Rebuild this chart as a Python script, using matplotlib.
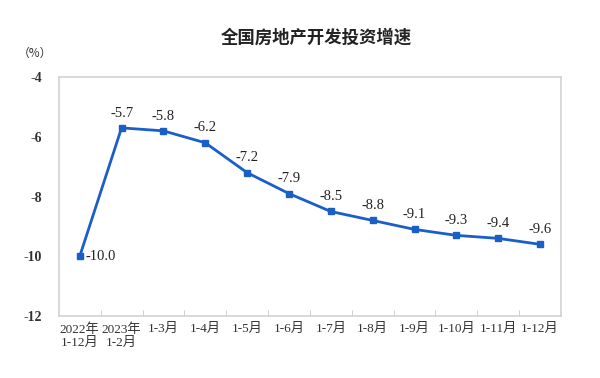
import matplotlib.pyplot as plt

plt.rcParams['font.family'] = ['Liberation Serif', 'Noto Sans CJK SC']

categories = ['2022年\n1-12月', '2023年\n1-2月', '1-3月', '1-4月', '1-5月', '1-6月',
              '1-7月', '1-8月', '1-9月', '1-10月', '1-11月', '1-12月']
growth = [-10.0, -5.7, -5.8, -6.2, -7.2, -7.9, -8.5, -8.8, -9.1, -9.3, -9.4, -9.6]
y_ticks = [-4, -6, -8, -10, -12]

fig = plt.figure(figsize=(6, 3.78), dpi=100)
ax = fig.add_axes([0.098, 0.164, 0.837, 0.632])

x = list(range(len(growth)))
ax.plot(x, growth, color='#1a5fc8', linewidth=2.0, marker='s', markersize=4.5)

for i, v in enumerate(growth):
    if i == 0:
        ax.annotate(f'{v:.1f}', (i, v), xytext=(4, 0), textcoords='offset points',
                    ha='left', va='center', fontsize=10.5, color='#222222')
    else:
        ax.annotate(f'{v:.1f}', (i, v), xytext=(0, 6), textcoords='offset points',
                    ha='center', va='bottom', fontsize=10.5, color='#222222')

ax.set_xlim(-0.5, len(growth) - 0.5)
ax.set_ylim(-12, -4)
ax.set_yticks(y_ticks)
ax.set_yticklabels([str(t) for t in y_ticks], fontweight='bold', fontsize=10, color='#333333')
ax.set_xticks(x)
ax.set_xticklabels(categories, fontsize=9.5, color='#333333', linespacing=1.15)
ax.set_xticks([i + 0.5 for i in x[:-1]], minor=True)
ax.tick_params(axis='x', which='major', length=0, pad=5)
ax.tick_params(axis='x', which='minor', direction='in', length=4, color='#c8c8c8')
ax.tick_params(axis='y', length=0, pad=12)

for s in ax.spines.values():
    s.set_color('#d2d2d2')
    s.set_linewidth(1.2)

fig.text(0.528, 0.9, '全国房地产开发投资增速', ha='center', va='center',
         fontsize=12.5, fontweight='bold', family=['Noto Sans CJK SC'], color='#222222')
fig.text(0.058, 0.86, '（%）', ha='center', va='center', fontsize=8.5, color='#333333',
         family=['Noto Sans CJK SC'])

fig.savefig('out.png', dpi=100)
